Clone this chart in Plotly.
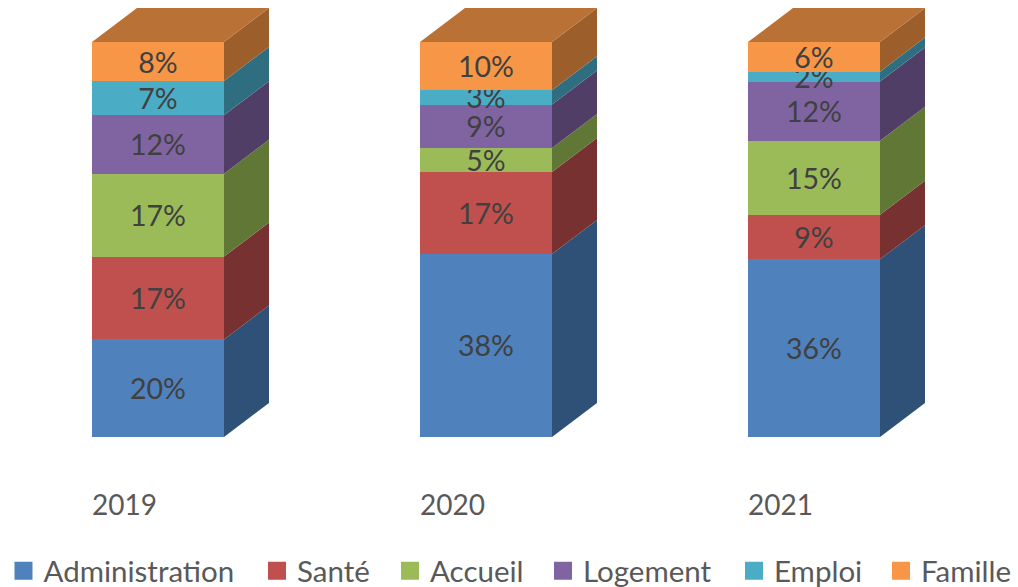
import plotly.graph_objects as go

YEARS = ["2019", "2020", "2021"]
SERIES = ["Administration", "Santé", "Accueil", "Logement", "Emploi", "Famille"]
ADMINISTRATION = [20, 38, 36]
SANTE = [17, 17, 9]
ACCUEIL = [17, 5, 15]
LOGEMENT = [12, 9, 12]
EMPLOI = [7, 3, 2]
FAMILLE = [8, 10, 6]
VALUES = [ADMINISTRATION, SANTE, ACCUEIL, LOGEMENT, EMPLOI, FAMILLE]

FRONT = ["#4F81BD", "#C0504D", "#9BBB59", "#8064A2", "#4BACC6", "#F79646"]
SIDE = ["#2F5077", "#773130", "#617735", "#513E66", "#2E6E80", "#9C5F2C"]
TOP_COLOR = "#BA7136"

W, H = 1018, 587
BASE_Y = 437
PX_PER_X = 328.0
PX_PER_Y = 3.95
X0_PX = 158.0
BAR_W = 132 / PX_PER_X
DX = 45 / PX_PER_X
DY = 34 / PX_PER_Y
xs = list(range(len(YEARS)))

fig = go.Figure()

# front faces: 100 % stacked bars
for name, vals, col in zip(SERIES, VALUES, FRONT):
    fig.add_trace(go.Bar(
        x=xs, y=vals, name=name, width=BAR_W, marker=dict(color=col, line=dict(width=0)),
        text=[f"{v}%" for v in vals], textposition="inside", insidetextanchor="middle",
        constraintext="none", textangle=0,
        textfont=dict(family="Lato", size=28.5, color="#404040"),
        showlegend=False, hoverinfo="skip",
    ))

# oblique side and top faces derived from the normalised stack
totals = [sum(v[i] for v in VALUES) for i in xs]
for i in xs:
    cum = 0.0
    r = i + BAR_W / 2
    l = i - BAR_W / 2
    for vals, col in zip(VALUES, SIDE):
        lo = cum
        cum += vals[i] / totals[i] * 100
        fig.add_trace(go.Scatter(
            x=[r, r + DX, r + DX, r, r], y=[lo, lo + DY, cum + DY, cum, lo],
            mode="lines", fill="toself", fillcolor=col, line=dict(width=0),
            showlegend=False, hoverinfo="skip",
        ))
    fig.add_trace(go.Scatter(
        x=[l, l + DX, r + DX, r, l], y=[100, 100 + DY, 100 + DY, 100, 100],
        mode="lines", fill="toself", fillcolor=TOP_COLOR, line=dict(width=0),
        showlegend=False, hoverinfo="skip",
    ))

# legend: one positioned legend per series
LEGEND_CENTRES = [23.5, 277, 410, 563, 754, 901]
layout_legends = {}
for k, (name, col, c) in enumerate(zip(SERIES, FRONT, LEGEND_CENTRES)):
    key = "legend" if k == 0 else f"legend{k+1}"
    fig.add_trace(go.Scatter(
        x=[None], y=[None], name=name, mode="markers", legend=key,
        marker=dict(symbol="square", size=16, color=col, line=dict(width=2, color=col)),
        hoverinfo="skip",
    ))
    layout_legends[key] = dict(
        x=(c - 20) / W, xanchor="left", y=(H - 571) / H, yanchor="middle",
        bgcolor="rgba(0,0,0,0)", borderwidth=0,
        font=dict(family="Lato", size=29.5, color="#595959"),
    )

fig.update_layout(
    width=W, height=H, margin=dict(l=0, r=0, t=0, b=0, pad=0, autoexpand=False),
    barmode="stack", barnorm="percent", plot_bgcolor="rgba(0,0,0,0)", paper_bgcolor="white",
    xaxis=dict(
        range=[-X0_PX / PX_PER_X, (W - X0_PX) / PX_PER_X],
        tickmode="array", tickvals=[i - 33.5 / PX_PER_X for i in xs], ticktext=YEARS,
        ticks="outside", ticklen=43, tickcolor="rgba(0,0,0,0)", tickwidth=1,
        showgrid=False, zeroline=False, showline=False, automargin=False,
        tickfont=dict(family="Lato", size=28, color="#595959"),
    ),
    yaxis=dict(domain=[(H - BASE_Y) / H, 1], range=[0, BASE_Y / PX_PER_Y], visible=False,
               showgrid=False, zeroline=False, automargin=False),
    **layout_legends,
)

fig.write_html("out.html", post_script="document.body.style.margin='0';", config={"displayModeBar": False})
